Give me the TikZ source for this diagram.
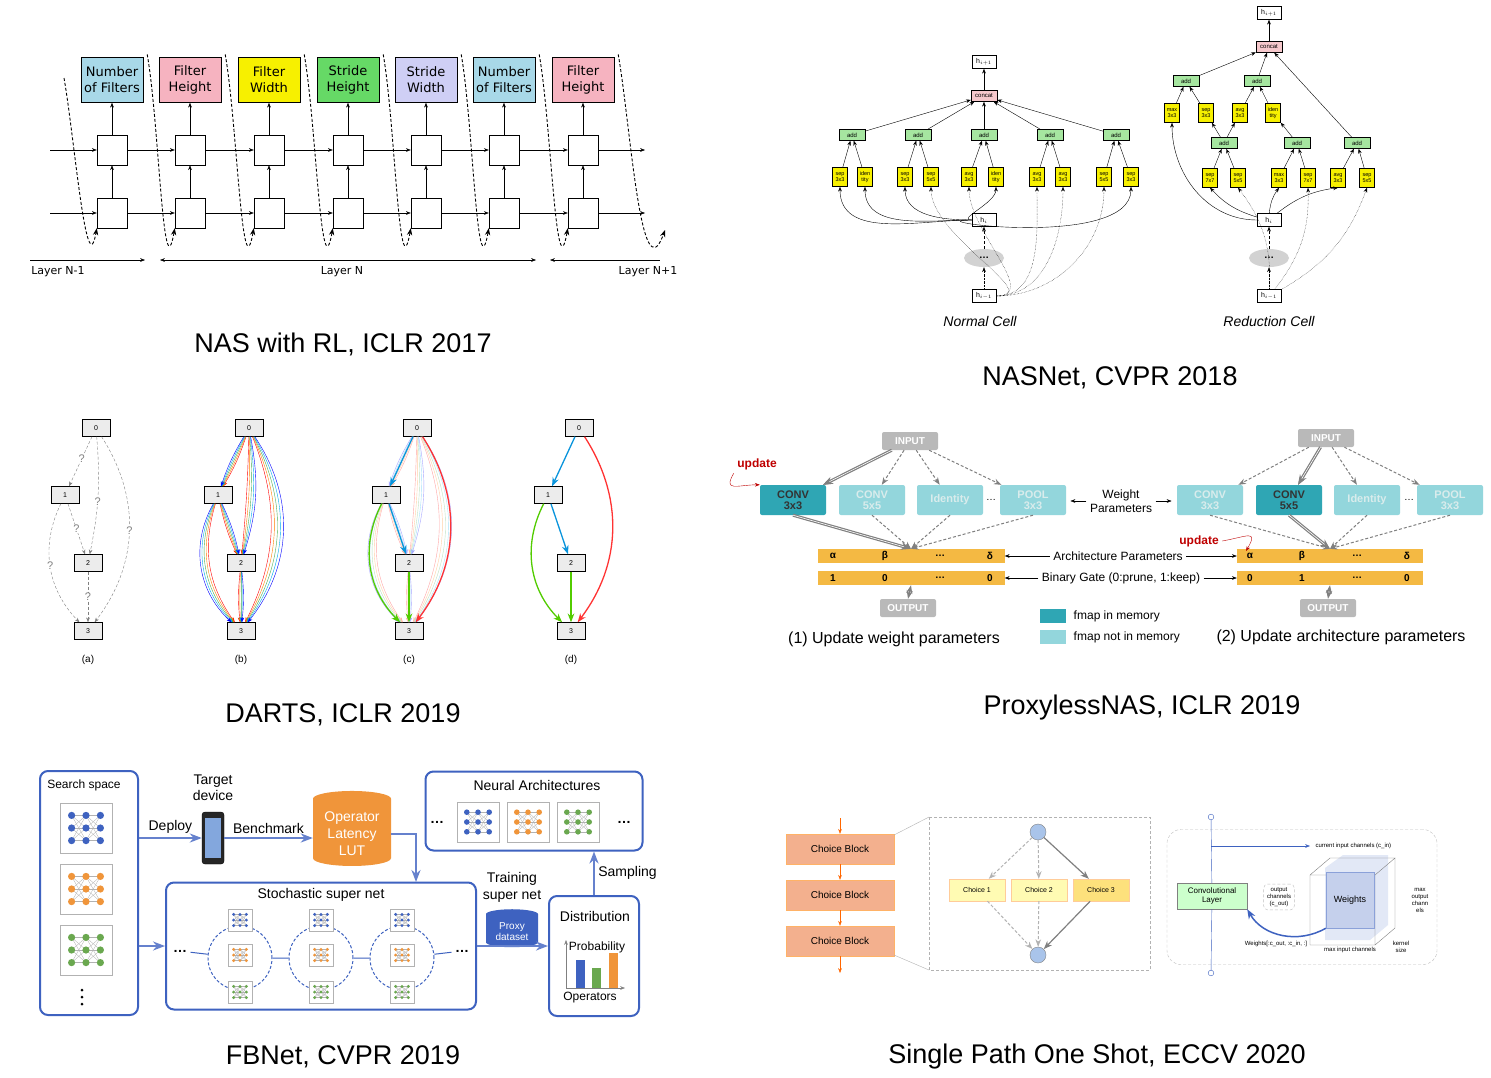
\documentclass[tikz,border=0pt]{standalone}
\usepackage{fontspec}
\setmainfont{Liberation Sans}
\newfontfamily\djv{DejaVu Sans}
\usetikzlibrary{positioning,calc,arrows.meta,shapes.geometric}
\definecolor{nlblue}{HTML}{A8D8E8}
\definecolor{npink}{HTML}{F6B3C0}
\definecolor{ngreen}{HTML}{66D966}
\definecolor{nlav}{HTML}{CFCFF5}
\definecolor{nyel}{HTML}{F7F000}
\definecolor{ngrn}{HTML}{A6E6A0}
\definecolor{ncat}{HTML}{F6C8CC}
\definecolor{pdark}{HTML}{2FA6B4}
\definecolor{plight}{HTML}{93D6DC}
\definecolor{pbar}{HTML}{F4B943}
\definecolor{fblue}{HTML}{3E62C0}
\definecolor{forange}{HTML}{F0953A}
\definecolor{fgreen}{HTML}{6AA84F}
\definecolor{ssal}{HTML}{F3B08E}
\definecolor{sblue}{HTML}{A9C4EA}
\definecolor{dgreen}{HTML}{4CAF50}
\tikzset{
  hyper/.style={draw, minimum width=62, minimum height=45, inner sep=1, align=center, font=\djv\fontsize{13}{16}\selectfont},
  cell/.style={draw, fill=white, minimum size=30},
  title/.style={font=\fontsize{27}{30}\selectfont},
  op/.style={draw, fill=nyel, minimum width=15, minimum height=19, inner sep=0.3, align=center, font=\fontsize{5.5}{5.5}\selectfont},
  addn/.style={draw, fill=ngrn, minimum width=26, minimum height=11, inner sep=0.5, font=\fontsize{6}{6}\selectfont},
  cat/.style={addn, fill=ncat},
  hs/.style={draw, fill=white, minimum width=24, minimum height=13, inner sep=0.5, font=\fontsize{7}{7}\selectfont},
  dn/.style={draw, fill=gray!15, minimum width=28, minimum height=17, font=\fontsize{7}{7}\selectfont},
  qm/.style={fill=white, inner sep=0.5, font=\fontsize{11}{11}\selectfont},
  pop/.style={rounded corners=2, fill=plight, text=white!85!teal, minimum width=66, minimum height=30, inner sep=1, align=center, font=\bfseries\fontsize{11}{11}\selectfont},
  pdk/.style={pop, fill=pdark, text=black!80},
  pio/.style={rounded corners=2, fill=gray!55, text=white, minimum width=56, minimum height=18, font=\bfseries\fontsize{10}{10}\selectfont},
  pbarn/.style={fill=pbar, minimum width=187, minimum height=14},
  pdash/.style={densely dashed, gray, line width=1, -{Stealth}},
  pthick/.style={gray, double, line width=1.2, -{Stealth}},
  fbox/.style={draw=fblue, line width=2, rounded corners=8},
  farrow/.style={draw=fblue!80, line width=2, -{Stealth}},
  cb/.style={draw=orange!60, fill=ssal, minimum width=108, minimum height=30, font=\fontsize{10}{10}\selectfont},
  chc/.style={draw=orange!40, fill=yellow!30, minimum width=56, minimum height=22, font=\fontsize{7}{7}\selectfont},
  small/.style={font=\fontsize{6}{7}\selectfont, align=center},
  pics/net/.style={code={
    \foreach \a in {-1,0} \foreach \b in {-1,0,1} \foreach \c in {-1,0,1}
      \draw[gray!60, line width=0.3] (\a*16,\b*14) -- (\a*16+16,\c*14);
    \foreach \a in {-1,0,1} \foreach \b in {-1,0,1}
      \fill[#1] (\a*16,\b*14) circle (4);
  }}
}
\begin{document}
\begin{tikzpicture}[x=1pt, y=-1pt, >=Stealth]
\useasboundingbox[fill=white] (0,0) rectangle (1491,1077);
%%% NAS with RL
\foreach \x/\c/\t [count=\i] in {112/nlblue/{Number\\of Filters},190/npink/{Filter\\Height},269/nyel/{Filter\\Width},348/ngreen/{Stride\\Height},426/nlav/{Stride\\Width},504/nlblue/{Number\\of Filters},583/npink/{Filter\\Height}}
{
  \node[hyper, fill=\c] (hp\i) at (\x,80) {\t};
  \node[cell] (up\i) at (\x,150) {};
  \node[cell] (lo\i) at (\x,213) {};
  \draw[->] (lo\i) -- (up\i);
  \draw[->] (up\i) -- (hp\i);
}
\coordinate (ua) at (50,150); \coordinate (ub) at (645,150);
\coordinate (la) at (50,213); \coordinate (lb) at (645,213);
\draw[->] (ua) -- (up1); \draw[->] (la) -- (lo1);
\draw[->] (up7) -- (ub); \draw[->] (lo7) -- (lb);
\foreach \i [evaluate=\i as \j using int(\i+1)] in {1,...,6}
{
  \draw[->] (up\i) -- (up\j);
  \draw[->] (lo\i) -- (lo\j);
  \draw[densely dashed, line width=0.9, ->] ($(hp\i.north east)+(4,-3)$) to[out=-80, in=-100] (lo\j.south west);
}
\coordinate (d0) at (64,78);
\draw[densely dashed, line width=0.9, ->] (d0) to[out=-80, in=-100] (lo1.south west);
\coordinate (d8) at (665,230);
\draw[densely dashed, line width=0.9, ->] ($(hp7.north east)+(4,-3)$) to[out=-80, in=-110] (d8);
%layers
\node[font=\djv\fontsize{11}{12}\selectfont] (ln0) at (58,272) {Layer N-1};
\node[font=\djv\fontsize{11}{12}\selectfont] (ln1) at (342,272) {Layer N};
\node[font=\djv\fontsize{11}{12}\selectfont] (ln2) at (648,272) {Layer N+1};
\coordinate (a0) at (30,260); \coordinate (a1) at (145,260);
\coordinate (b0) at (160,260); \coordinate (b1) at (536,260);
\coordinate (c0) at (550,260); \coordinate (c1) at (660,260);
\draw[->] (a0) -- (a1); \draw[<->] (b0) -- (b1); \draw[<-] (c0) -- (c1);
\node[title] (t1) at (343,344) {NAS with RL, ICLR 2017};
%%% NASNet normal cell
\node[hs] (nh1) at (984,62) {h$_{i+1}$};
\node[cat] (ncat) at (984,96) {concat};
\draw[->] (ncat) -- (nh1);
\foreach \x [count=\i] in {852,918,984,1050,1116}
{
  \node[addn] (nadd\i) at (\x,135) {add};
  \draw[->] (nadd\i) -- (ncat);
}
\foreach \x/\t [count=\i] in {840/sep\\3x3,865/iden\\tity,905/sep\\3x3,931/sep\\5x5,969/avg\\3x3,996/iden\\tity,1037/avg\\3x3,1063/avg\\3x3,1104/sep\\5x5,1131/sep\\3x3}
{
  \node[op] (nop\i) at (\x,177) {\t};
  \pgfmathtruncatemacro\k{(\i+1)/2}
  \draw[->] (nop\i) -- (nadd\k);
}
\node[hs] (nhi) at (984,220) {h$_i$};
\node[ellipse, fill=gray!35, minimum width=40, minimum height=18] (ncl) at (984,258) {\textbf{\ldots}};
\node[hs] (nhp) at (984,296) {h$_{i-1}$};
\draw[->, densely dotted] (nhp) -- (ncl);
\draw[->, densely dashed] (ncl) -- (nhi);
\foreach \i in {1,2,3,6,10}
  \draw[->] (nhi.west) to[out=180, in=-90] (nop\i.south);
\foreach \i in {4,5,7,8,9}
  \draw[->, densely dotted] (nhp.east) to[out=0, in=-90] (nop\i.south);
\node[font=\itshape\fontsize{14}{16}\selectfont] (nlab) at (980,321) {Normal Cell};
%%% NASNet reduction cell
\node[hs] (rh1) at (1269,13) {h$_{i+1}$};
\node[cat] (rcat) at (1269,47) {concat};
\draw[->] (rcat) -- (rh1);
\node[addn] (ra1) at (1186,81) {add};
\node[addn] (ra2) at (1257,81) {add};
\node[addn] (ra3) at (1224,143) {add};
\node[addn] (ra4) at (1297,143) {add};
\node[addn] (ra5) at (1357,143) {add};
\foreach \i in {1,2,5} \draw[->] (ra\i) -- (rcat);
\foreach \x/\t [count=\i] in {1172/max\\3x3,1206/sep\\3x3,1240/avg\\3x3,1273/iden\\tity}
{
  \node[op] (rt\i) at (\x,113) {\t};
  \pgfmathtruncatemacro\k{(\i+1)/2}
  \draw[->] (rt\i) -- (ra\k);
}
\foreach \x/\t [count=\i] in {1210/sep\\7x7,1238/sep\\5x5,1279/max\\3x3,1308/sep\\7x7,1338/avg\\3x3,1367/sep\\5x5}
{
  \node[op] (rb\i) at (\x,178) {\t};
  \pgfmathtruncatemacro\k{(\i+1)/2+2}
  \draw[->] (rb\i) -- (ra\k);
}
\draw[->] (ra3) -- (rt2); \draw[->] (ra4) -- (rt4);
\draw[->] (ra3) -- (rt3);
\node[hs] (rhi) at (1269,220) {h$_i$};
\node[ellipse, fill=gray!35, minimum width=40, minimum height=18] (rcl) at (1269,258) {\textbf{\ldots}};
\node[hs] (rhp) at (1269,296) {h$_{i-1}$};
\draw[->, densely dotted] (rhp) -- (rcl);
\draw[->, densely dashed] (rcl) -- (rhi);
\foreach \i in {1,3,5} \draw[->] (rhi) to[bend left=15] (rb\i.south);
\draw[->] (rhi.west) to[out=180, in=-90] (rt1.south);
\foreach \i in {2,4,6} \draw[->, densely dotted] (rhp) to[bend right=20] (rb\i.south);
\node[font=\itshape\fontsize{14}{16}\selectfont] (rlab) at (1269,321) {Reduction Cell};
\node[title] (t2) at (1110,378) {NASNet, CVPR 2018};
%%% DARTS
\foreach \g/\x in {a/0,b/153,c/321,d/483}
{
  \node[dn] (\g0) at ({96+\x},428) {0};
  \node[dn] (\g1) at ({65+\x},495) {1};
  \node[dn] (\g2) at ({88+\x},563) {2};
  \node[dn] (\g3) at ({88+\x},631) {3};
  \node[font=\fontsize{10}{10}\selectfont] (\g lab) at ({88+\x},660) {(\g)};
}
\begin{scope}[densely dashed, gray, ->]
  \draw (a0) -- node[qm, pos=0.45] {?} (a1);
  \draw (a0) to[bend left=8] node[qm, pos=0.55] {?} (a2);
  \draw (a0) to[bend left=35] node[qm] {?} (a3);
  \draw (a1) -- node[qm] {?} (a2);
  \draw (a1) to[bend right=35] node[qm] {?} (a3);
  \draw (a2) -- node[qm] {?} (a3);
\end{scope}
\foreach \c/\s in {red/-6,orange/-3,dgreen/0,cyan/3,blue/6}
{
  \draw[\c, ->] (b0) to[bend right=\s] (b1);
  \draw[\c, ->] (b0) to[bend left=8+\s] (b2);
  \draw[\c, ->] (b0) to[bend left=30+\s] (b3);
  \draw[\c, ->] (b1) to[bend left=\s] (b2);
  \draw[\c, ->] (b1) to[bend right=32+\s] (b3);
  \draw[\c, ->] (b2) to[bend left=\s] (b3);
  \draw[\c!35, ->] (c0) to[bend right=\s] (c1);
  \draw[\c!35, ->] (c0) to[bend left=8+\s] (c2);
  \draw[\c!35, ->] (c0) to[bend left=30+\s] (c3);
  \draw[\c!35, ->] (c1) to[bend left=\s] (c2);
  \draw[\c!35, ->] (c1) to[bend right=32+\s] (c3);
  \draw[\c!35, ->] (c2) to[bend left=\s] (c3);
}
\draw[line width=1.3, cyan!80!blue, ->] (c0) -- (c1);
\draw[line width=1.3, red!80, ->] (c0) to[bend left=35] (c3);
\draw[line width=1.3, cyan!80!blue, ->] (c1) -- (c2);
\draw[line width=1.3, green!60!yellow!80!black, ->] (c1) to[bend right=36] (c3);
\draw[line width=1.3, green!60!yellow!80!black, ->] (c2) -- (c3);
\draw[line width=1.3, cyan!80!blue, ->] (d0) -- (d1);
\draw[line width=1.3, red!80, ->] (d0) to[bend left=35] (d3);
\draw[line width=1.3, cyan!80!blue, ->] (d1) -- (d2);
\draw[line width=1.3, green!60!yellow!80!black, ->] (d1) to[bend right=36] (d3);
\draw[line width=1.3, green!60!yellow!80!black, ->] (d2) -- (d3);
\node[title] (t3) at (343,715) {DARTS, ICLR 2019};
%%% ProxylessNAS, left
\node[pio] (win) at (910,441) {INPUT};
\foreach \x/\t/\s [count=\i] in {793/CONV\\3x3/pdk,872/CONV\\5x5/pop,950/Identity/pop,1033/POOL\\3x3/pop}
{
  \node[\s] (wa\i) at (\x,500) {\t};
  \draw[pdash] (win) -- (wa\i);
}
\node (wdot) at (991,500) {\ldots};
\node[pbarn] (wal) at (911,556) {};
\node[pbarn] (wbg) at (911,578) {};
\foreach \x/\t in {833/α,885/β,940/\ldots,990/δ}
  \node[font=\bfseries] at (\x,556) {\t};
\foreach \x/\t in {833/1,885/0,940/\ldots,990/0}
  \node[font=\bfseries] at (\x,578) {\t};
\node[pio] (wout) at (908,608) {OUTPUT};
\draw[pthick] (win) -- (wa1);
\foreach \i in {2,3,4} \draw[pdash] (wa\i.south) -- (wal.north);
\draw[pthick] (wa1.south) -- (wal.north);
\draw[gray, line width=1.2, <->] (wbg.south) -- (wout.north);
\node[text=red!75!black, font=\bfseries\fontsize{12}{12}\selectfont] (wup) at (757,464) {update};
\draw[red!75!black, ->] (wup.south west) to[out=-120, in=180, looseness=2] (wa1.north west);
%%% ProxylessNAS, right
\node[pio] (ain) at (1326,438) {INPUT};
\foreach \x/\t/\s [count=\i] in {1210/CONV\\3x3/pop,1289/CONV\\5x5/pdk,1367/Identity/pop,1450/POOL\\3x3/pop}
{
  \node[\s] (aa\i) at (\x,500) {\t};
  \draw[pdash] (ain) -- (aa\i);
}
\node (adot) at (1409,500) {\ldots};
\node[pbarn, minimum width=186] (aal) at (1330,556) {};
\node[pbarn, minimum width=186] (abg) at (1330,578) {};
\foreach \x/\t in {1250/α,1302/β,1357/\ldots,1407/δ}
  \node[font=\bfseries] at (\x,556) {\t};
\foreach \x/\t in {1250/0,1302/1,1357/\ldots,1407/0}
  \node[font=\bfseries] at (\x,578) {\t};
\node[pio] (aout) at (1328,608) {OUTPUT};
\draw[pthick] (ain) -- (aa2);
\foreach \i in {1,3,4} \draw[pdash] (aa\i.south) -- (aal.north);
\draw[pthick] (aa2.south) -- (aal.north);
\draw[gray, line width=1.2, <->] (abg.south) -- (aout.north);
\node[text=red!75!black, font=\bfseries\fontsize{12}{12}\selectfont] (aup) at (1199,541) {update};
\coordinate (aupe) at (1246,551);
\draw[red!75!black, ->] (aup.east) to[out=10, in=60, looseness=2.5] (aupe);
%middle texts
\node[align=center, font=\fontsize{12}{14}\selectfont] (wpar) at (1121,501) {Weight\\Parameters};
\draw[->] (wpar.west) -- ++(-16,0);
\draw[->] (wpar.east) -- ++(16,0);
\node[font=\fontsize{12}{12}\selectfont] (apar) at (1118,556) {Architecture Parameters};
\draw[->] (apar.west) -- (wal.east);
\draw[->] (apar.east) -- (aal.west);
\node[font=\fontsize{12}{12}\selectfont] (bgat) at (1121,578) {Binary Gate (0:prune, 1:keep)};
\draw[->] (bgat.west) -- (wbg.east);
\draw[->] (bgat.east) -- (abg.west);
\node[fill=pdark, minimum width=26, minimum height=14] (lg1) at (1053,616) {};
\node[right=4pt of lg1, font=\fontsize{12}{12}\selectfont] (lg1t) {fmap in memory};
\node[fill=plight, minimum width=26, minimum height=14] (lg2) at (1053,637) {};
\node[right=4pt of lg2, font=\fontsize{12}{12}\selectfont] (lg2t) {fmap not in memory};
\node[font=\fontsize{16}{16}\selectfont] (wcap) at (894,639) {(1) Update weight parameters};
\node[font=\fontsize{16}{16}\selectfont] (acap) at (1341,637) {(2) Update architecture parameters};
\node[title] (t4) at (1142,708) {ProxylessNAS, ICLR 2019};
%%% FBNet
\node[fbox, minimum width=98, minimum height=244] (ss) at (89,893) {};
\node[font=\fontsize{12}{12}\selectfont] (sslab) at (84,785) {Search space};
\foreach \y/\c in {828/fblue,889/forange,950/fgreen}
{
  \node[draw=gray!60, minimum width=52, minimum height=50] (sn\y) at (86,\y) {};
  \pic[scale=0.9] at (86,\y) {net=\c};
}
\foreach \y in {990,997,1004} \fill (82,\y) circle (1.5);
\node[draw, fill=black!85, rounded corners=3, minimum width=22, minimum height=52] (ph) at (213,838) {};
\node[fill=cyan!50!blue!50, minimum width=16, minimum height=40] (phs) at (213,838) {};
\node[align=center, font=\fontsize{14}{16}\selectfont] (tdev) at (213,788) {Target\\device};
\draw[farrow] (ss.east |- ph.west) -- node[above, text=black, font=\fontsize{14}{14}\selectfont] {Deploy} (ph.west);
\node[cylinder, shape border rotate=90, aspect=0.25, fill=forange, minimum width=78, minimum height=75, text=white, align=center, font=\fontsize{14}{17}\selectfont] (lut) at (352,834) {Operator\\Latency\\LUT};
\draw[farrow] (ph.east) -- node[above, text=black, font=\fontsize{14}{14}\selectfont] {Benchmark} (lut.west |- ph.east);
\node[fbox, minimum width=217, minimum height=79] (na) at (534,811) {};
\node[font=\fontsize{14}{14}\selectfont] (nalab) at (537,785) {Neural Architectures};
\foreach \x/\c in {478/fblue,528/forange,578/fgreen}
{
  \node[draw=gray!60, minimum width=42, minimum height=40] (nb\x) at (\x,822) {};
  \pic[scale=0.7] at (\x,822) {net=\c};
}
\node[font=\bfseries\fontsize{14}{14}\selectfont] (nad1) at (437,822) {\ldots};
\node[font=\bfseries\fontsize{14}{14}\selectfont] (nad2) at (624,822) {\ldots};
\node[fbox, minimum width=310, minimum height=127] (sn) at (321,946) {};
\node[font=\fontsize{14}{14}\selectfont] (snlab) at (321,895) {Stochastic super net};
\foreach \x [count=\i] in {240,321,402}
{
  \node[circle, draw=fblue, densely dashed, line width=1, minimum size=64] (sc\i) at (\x,958) {};
  \foreach \y/\c in {920/fblue,955/forange,992/fgreen}
  {
    \node[draw=gray!60, fill=white, minimum width=24, minimum height=22] at (\x,\y) {};
    \pic[scale=0.4] at (\x,\y) {net=\c};
  }
}
\node[font=\bfseries\fontsize{14}{14}\selectfont] (snd1) at (180,951) {\ldots};
\node[font=\bfseries\fontsize{14}{14}\selectfont] (snd2) at (462,951) {\ldots};
\draw[fblue, line width=1] (snd1) -- (sc1) (sc1) -- (sc2) (sc2) -- (sc3) (sc3) -- (snd2);
\coordinate (snin) at (416,882);
\draw[farrow] (lut.east) -| (snin);
\node[align=center, font=\fontsize{14}{17}\selectfont] (tsn) at (512,887) {Training\\super net};
\node[cylinder, shape border rotate=90, aspect=0.25, fill=fblue, minimum width=52, minimum height=38, text=white, align=center, font=\fontsize{10}{11}\selectfont] (prx) at (512,932) {Proxy\\dataset};
\node[fbox, minimum width=90, minimum height=120] (dist) at (594,956) {};
\node[font=\fontsize{14}{14}\selectfont] (dlab) at (595,916) {Distribution};
\node[font=\fontsize{12}{12}\selectfont] (dprob) at (597,947) {Probability};
\node[font=\fontsize{12}{12}\selectfont] (dops) at (590,998) {Operators};
\fill[fblue] (576,988) rectangle (585,960);
\fill[fgreen] (592,988) rectangle (601,968);
\fill[forange] (609,988) rectangle (618,953);
\draw[gray, ->] (566,988) -- (625,988);
\draw[gray, ->] (566,988) -- (566,940);
\draw[farrow] (ss.east |- sn.west) -- (sn.west);
\draw[farrow] (sn.east) -- (dist.west |- sn.east);
\draw[farrow] (dist.north) -- node[right, text=black, font=\fontsize{14}{14}\selectfont] {Sampling} (dist.north |- na.south);
\node[title] (t5) at (343,1057) {FBNet, CVPR 2019};
%%% Single Path One Shot
\node[cb] (cb1) at (840,849) {Choice Block};
\node[cb] (cb2) at (840,895) {Choice Block};
\node[cb] (cb3) at (840,941) {Choice Block};
\coordinate (ct) at (840,818); \coordinate (cbt) at (840,973);
\draw[orange!80!red, ->] (ct) -- (cb1);
\draw[orange!80!red, ->] (cb1) -- (cb2);
\draw[orange!80!red, ->] (cb2) -- (cb3);
\draw[orange!80!red, ->] (cb3) -- (cbt);
\draw[gray!60, densely dashed] (929,817) rectangle (1150,970);
\draw[gray!60] (894,835) -- (929,817) (894,955) -- (929,970);
\node[circle, fill=sblue, draw=gray, minimum size=16] (so1) at (1038,832) {};
\node[circle, fill=sblue, draw=gray, minimum size=16] (so2) at (1038,955) {};
\node[chc] (ch1) at (977,890) {Choice 1};
\node[chc] (ch2) at (1039,890) {Choice 2};
\node[chc, fill=yellow!60!orange!50] (ch3) at (1101,890) {Choice 3};
\draw[gray!60, densely dashed, line width=1, ->] (so1) -- (ch1);
\draw[gray!60, densely dashed, line width=1, ->] (so1) -- (ch2);
\draw[gray, line width=1.2, ->] (so1) -- (ch3);
\draw[gray!60, densely dashed, line width=1, ->] (ch1) -- (so2);
\draw[gray!60, densely dashed, line width=1, ->] (ch2) -- (so2);
\draw[gray, line width=1.2, ->] (ch3) -- (so2);
\node[draw=gray!50, densely dashed, rounded corners=14, minimum width=270, minimum height=135] (wbox) at (1302,897) {};
\node[circle, draw=fblue, fill=white, inner sep=2] (vt) at (1211,817) {};
\node[circle, draw=fblue, fill=white, inner sep=2] (vb) at (1211,973) {};
\node[draw=gray, fill=green!20, align=center, font=\fontsize{8}{9}\selectfont, minimum width=70, minimum height=26] (cl) at (1212,896) {Convolutional\\Layer};
\draw[fblue] (vt) -- (cl) (cl) -- (vb);
\coordinate (cin) at (1310,846);
\draw[fblue, ->] (vt |- cin) -- (cin);
\node[small, anchor=west] (cinl) at (1312,846) {current input channels (c\_in)};
\fill[fblue!15] (1325,868) -- (1343,855) -- (1388,855) -- (1388,925) -- (1370,940) -- (1325,940) -- cycle;
\draw[gray] (1310,875) rectangle (1375,945) (1310,875) -- (1330,858) -- (1395,858) -- (1375,875) (1395,858) -- (1395,928) -- (1375,945);
\node[draw=fblue!60, fill=fblue!30, minimum width=48, minimum height=56, font=\fontsize{9}{9}\selectfont] (wts) at (1350,900) {Weights};
\draw[fblue, line width=1.5, ->] (wts.south west) to[out=-150, in=-60] (cl.south east);
\node[small, draw=gray!50, densely dashed, rounded corners=4] (coutl) at (1279,897) {output\\channels\\(c\_out)};
\node[small] (mocl) at (1420,900) {max\\output\\chann\\els};
\node[small] (ksl) at (1401,947) {kernel\\size};
\node[small] (wtl) at (1276,944) {Weights[:c\_out, :c\_in, :]};
\node[small] (mil) at (1350,950) {max input channels};
\node[title] (t6) at (1097,1057) {Single Path One Shot, ECCV 2020};
\end{tikzpicture}
\end{document}
